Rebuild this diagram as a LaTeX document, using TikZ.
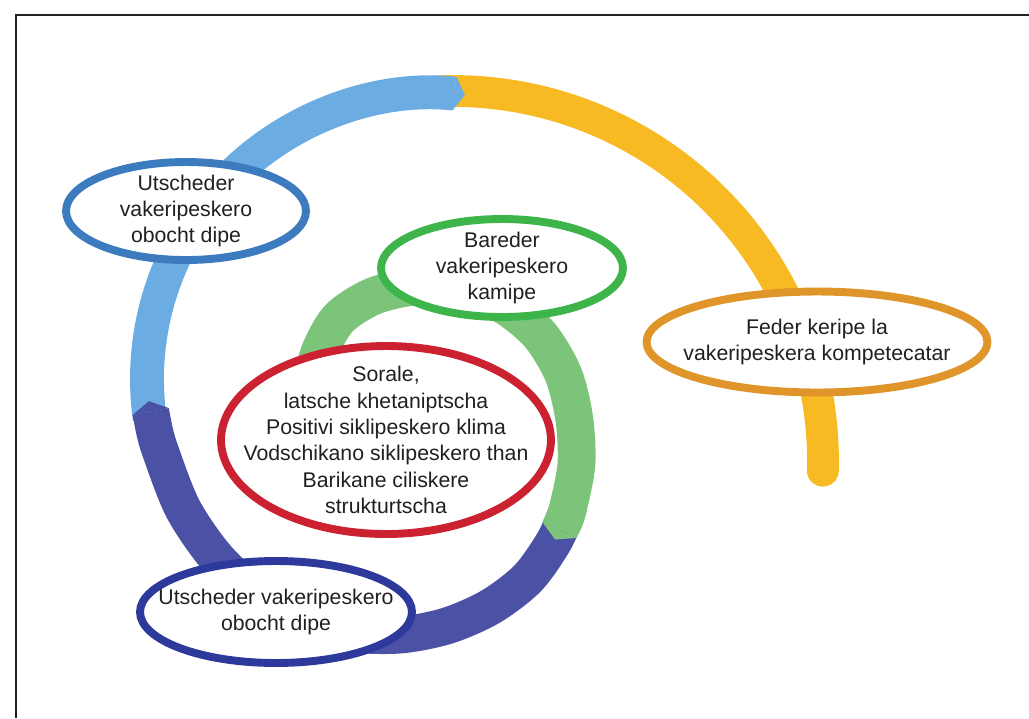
\documentclass[tikz,border=0pt]{standalone}
\usepackage{fontspec}
\setmainfont{Liberation Sans}
\usetikzlibrary{shapes.geometric,arrows.meta}

\definecolor{ringsky}{HTML}{6BADE2}
\definecolor{ringgold}{HTML}{F8BA22}
\definecolor{ringnavy}{HTML}{4B52A6}
\definecolor{ringleaf}{HTML}{7DC47B}
\definecolor{lineblue}{HTML}{3B7BBE}
\definecolor{linegreen}{HTML}{3DB54A}
\definecolor{lineorange}{HTML}{E0952A}
\definecolor{linered}{HTML}{CB2131}
\definecolor{linenavy}{HTML}{2D3A9B}
\definecolor{inktext}{HTML}{231F20}

\begin{document}
\begin{tikzpicture}[x=0.02cm, y=-0.02cm,
    bubble/.style = {shape=ellipse, draw, fill=white,
      line width=4.5pt, inner sep=-30pt, align=center,
      text=inktext, font=\fontsize{12.1}{15}\selectfont},
    band/.style = {line width=#1, line cap=butt},
    pointed/.style = {-{Triangle[width=0pt 1, length=6pt, line width=0pt]}}]
  \useasboundingbox (0,0) rectangle (1029,718);
  \draw[inktext, line width=1.5pt] (16,718) -- (16,15) -- (1029,15);

  % spiral, from the outer end inwards
  \draw[band=18.1pt, ringgold, line cap=round] (453,461) ++(268:370)
    arc[start angle=268, end angle=361.5, radius=370];
  \draw[band=19.3pt, ringsky, pointed] (433,379) ++(172:286)
    arc[start angle=172, end angle=276.4, radius=286];
  \begin{scope}[shift={(400,450)}]
    \draw[band=21pt, ringnavy, pointed] plot[smooth] coordinates
      {(378:178) (390:179) (405:181) (420:181) (435:182) (450:185) (465:190)
       (480:196) (495:204) (510:213) (525:225) (540:240) (545:247)} -- (551:256);
    \draw[band=21.5pt, ringleaf, pointed] plot[smooth] coordinates
      {(215:108) (230:126) (245:145) (260:156) (275:164) (290:172) (305:178)
       (320:181) (335:180) (350:177) (365:177) (380:178) (384:178.4)} -- (390:179);
  \end{scope}

  % bubbles
  \node[bubble, draw=lineblue, minimum width=4.8cm, minimum height=1.96cm] (utscheder) at (186,211)
    {Utscheder\\vakeripeskero\\obocht dipe};
  \node[bubble, draw=linegreen, minimum width=4.84cm, minimum height=1.96cm] (bareder) at (502,268)
    {Bareder\\vakeripeskero\\kamipe};
  \node[bubble, draw=lineorange, minimum width=6.82cm, minimum height=2.02cm] (feder) at (817,342)
    {Feder keripe la\\vakeripeskera kompetecatar};
  \node[bubble, draw=linered, minimum width=6.6cm, minimum height=3.76cm] (sorale) at (386,440)
    {Sorale,\\latsche khetaniptscha\\Positivi siklipeskero klima\\Vodschikano siklipeskero than\\Barikane ciliskere\\strukturtscha};
  \node[bubble, draw=linenavy, minimum width=5.44cm, minimum height=2.04cm] (obocht) at (276,612)
    {Utscheder vakeripeskero\\obocht dipe};
\end{tikzpicture}
\end{document}
